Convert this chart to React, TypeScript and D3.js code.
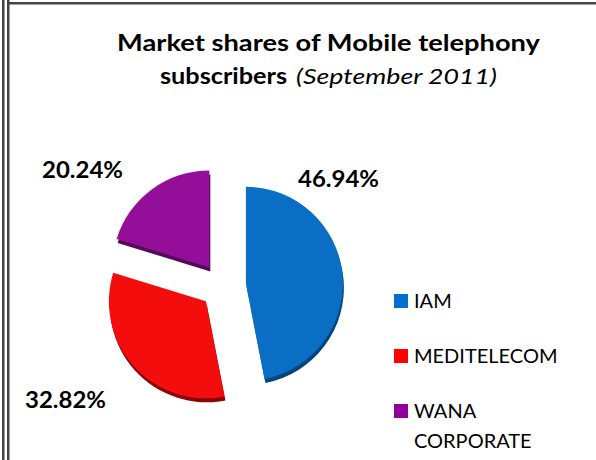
import React from "react";
import * as d3 from "d3";

const categories = ["IAM", "MEDITELECOM", "WANA CORPORATE"];
const values = [46.94, 32.82, 20.24];
const labels = ["46.94%", "32.82%", "20.24%"];
const colors = ["#0A6FC4", "#F40D0D", "#940F99"];
const shadowColors = ["#05457E", "#8A0505", "#560958"];
const legendColors = ["#0070D0", "#FF0000", "#92009A"];
const legendLines = [["IAM"], ["MEDITELECOM"], ["WANA", "CORPORATE"]];

export default function App() {
  const W = 596, H = 460;
  const cx = 223, cy = 286, r = 97, explode = 23;
  const pie = d3.pie<number>().sort(null).startAngle(0).endAngle(2 * Math.PI);
  const arcs = pie(values);
  const arc = d3.arc<d3.PieArcDatum<number>>().innerRadius(0).outerRadius(r);
  const labelPos: [number, number][] = [
    [298, 187],
    [25, 408],
    [42, 178],
  ];
  const font = "Lato, 'Open Sans', sans-serif";
  return (
    <svg width={W} height={H} style={{ position: "absolute", left: 0, top: 0, background: "#fff" }}>
      <rect x={2} y={0} width={2.5} height={H} fill="#444" />
      <rect x={7} y={0} width={2.5} height={H} fill="#444" />
      <rect x={7} y={2} width={W - 7} height={2.5} fill="#444" />
      <text x={117} y={51} fontFamily={font} fontWeight="bold" fontSize={22} textLength={423} lengthAdjust="spacingAndGlyphs" fill="#000">
        Market shares of Mobile telephony
      </text>
      <text x={160} y={84} fontFamily={font} fontWeight="bold" fontSize={22} textLength={127} lengthAdjust="spacingAndGlyphs" fill="#000">
        subscribers
      </text>
      <text x={296} y={84} fontFamily={font} fontStyle="italic" fontSize={22} textLength={201} lengthAdjust="spacingAndGlyphs" fill="#000">
        (September 2011)
      </text>
      {arcs.map((a, i) => {
        const mid = (a.startAngle + a.endAngle) / 2;
        const dx = Math.sin(mid) * explode;
        const dy = -Math.cos(mid) * explode;
        return (
          <g key={i} transform={`translate(${cx + dx},${cy + dy})`}>
            <path d={arc(a) || ""} transform="translate(1,4)" fill={shadowColors[i]} />
            <path d={arc(a) || ""} fill={colors[i]} />
          </g>
        );
      })}
      {labels.map((l, i) => (
        <text key={i} x={labelPos[i][0]} y={labelPos[i][1]} fontFamily={font} fontWeight="bold" fontSize={22} textLength={81} lengthAdjust="spacingAndGlyphs" fill="#000">
          {l}
        </text>
      ))}
      {categories.map((c, i) => {
        const ys = [308, 363, 418];
        return (
          <g key={c}>
            <rect x={394} y={ys[i] - 14} width={14} height={14} fill={legendColors[i]} />
            {legendLines[i].map((t, j) => (
              <text key={j} x={414} y={ys[i] + j * 30} fontFamily={font} fontSize={20} fill="#000">
                {t}
              </text>
            ))}
          </g>
        );
      })}
    </svg>
  );
}
